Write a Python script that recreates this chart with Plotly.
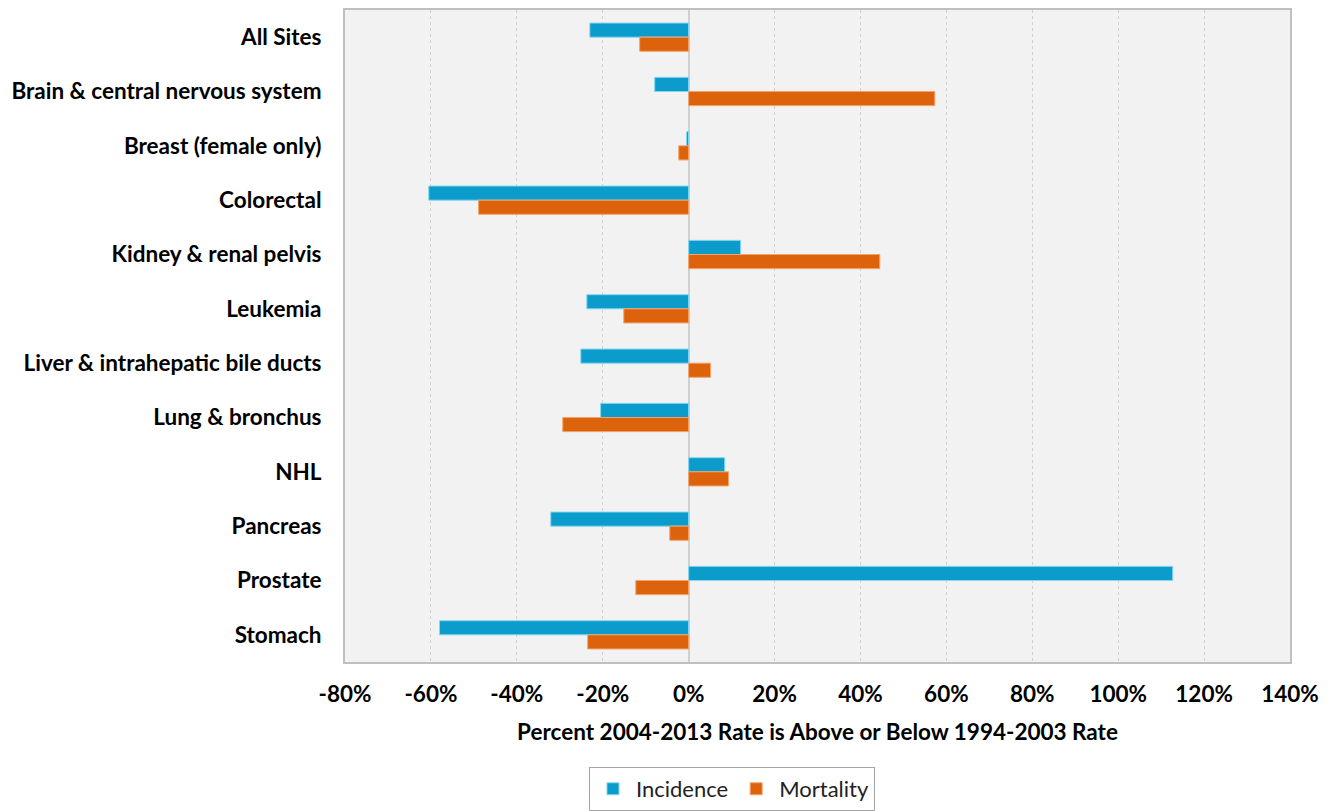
import plotly.graph_objects as go

categories = ["All Sites", "Brain & central nervous system", "Breast (female only)", "Colorectal",
              "Kidney & renal pelvis", "Leukemia", "Liver & intrahepatic bile ducts", "Lung & bronchus",
              "NHL", "Pancreas", "Prostate", "Stomach"]
incidence = [-23.0, -7.9, -0.5, -60.5, 12.1, -23.7, -25.1, -20.5, 8.4, -32.1, 112.7, -58.0]
mortality = [-11.4, 57.3, -2.3, -48.9, 44.5, -15.1, 5.1, -29.3, 9.3, -4.4, -12.3, -23.5]
tick_vals = [-0.8, -0.6, -0.4, -0.2, 0, 0.2, 0.4, 0.6, 0.8, 1.0, 1.2, 1.4]
tick_text = ["-80%", "-60%", "-40%", "-20%", "0%", "20%", "40%", "60%", "80%", "100%", "120%", "140%"]

FONT = "Lato, 'Open Sans', sans-serif"

fig = go.Figure()
fig.add_trace(go.Bar(
    y=categories, x=[v / 100 for v in incidence], name="Incidence", orientation="h",
    marker=dict(color="#0B9CCC", line=dict(color="#86D6F2", width=1)),
))
fig.add_trace(go.Bar(
    y=categories, x=[v / 100 for v in mortality], name="Mortality", orientation="h",
    marker=dict(color="#DD620C", line=dict(color="#F4A46A", width=1)),
))

fig.update_layout(
    width=1325, height=804,
    margin=dict(l=337, r=43, t=2, b=150, autoexpand=False),
    paper_bgcolor="white", plot_bgcolor="#F2F2F2",
    barmode="group", bargap=0.48, bargroupgap=0.0,
    font=dict(family=FONT, color="#000000"),
    showlegend=True,
    legend=dict(orientation="h", x=0.4095, xanchor="center", y=-0.161, yanchor="top",
                bordercolor="#A6A6A6", borderwidth=1, bgcolor="white",
                font=dict(size=22, family=FONT, color="#222222"),
                traceorder="normal", itemwidth=36),
    xaxis=dict(range=[-0.8, 1.4], tickvals=tick_vals, ticktext=tick_text, automargin=False,
               tickfont=dict(size=22.5, family=FONT, color="#000000", weight="bold"),
               showgrid=True, gridcolor="#D0D0D0", griddash="dot", gridwidth=1,
               zeroline=True, zerolinecolor="#D0D0D0", zerolinewidth=2,
               showline=True, linecolor="#BFBFBF", linewidth=2, mirror=True,
               ticks="", ticklabelstandoff=11,
               title=dict(text="<b>Percent 2004-2013 Rate is Above or Below 1994-2003 Rate</b>",
                          font=dict(size=22.5, family=FONT, color="#000000"), standoff=18)),
    yaxis=dict(autorange="reversed", categoryorder="array", categoryarray=categories, automargin=False,
               tickfont=dict(size=22.5, family=FONT, color="#000000", weight="bold"),
               showgrid=False, showline=True, linecolor="#BFBFBF", linewidth=2, mirror=True,
               ticks="", ticklabelstandoff=17),
)

fig.write_html("out.html")
